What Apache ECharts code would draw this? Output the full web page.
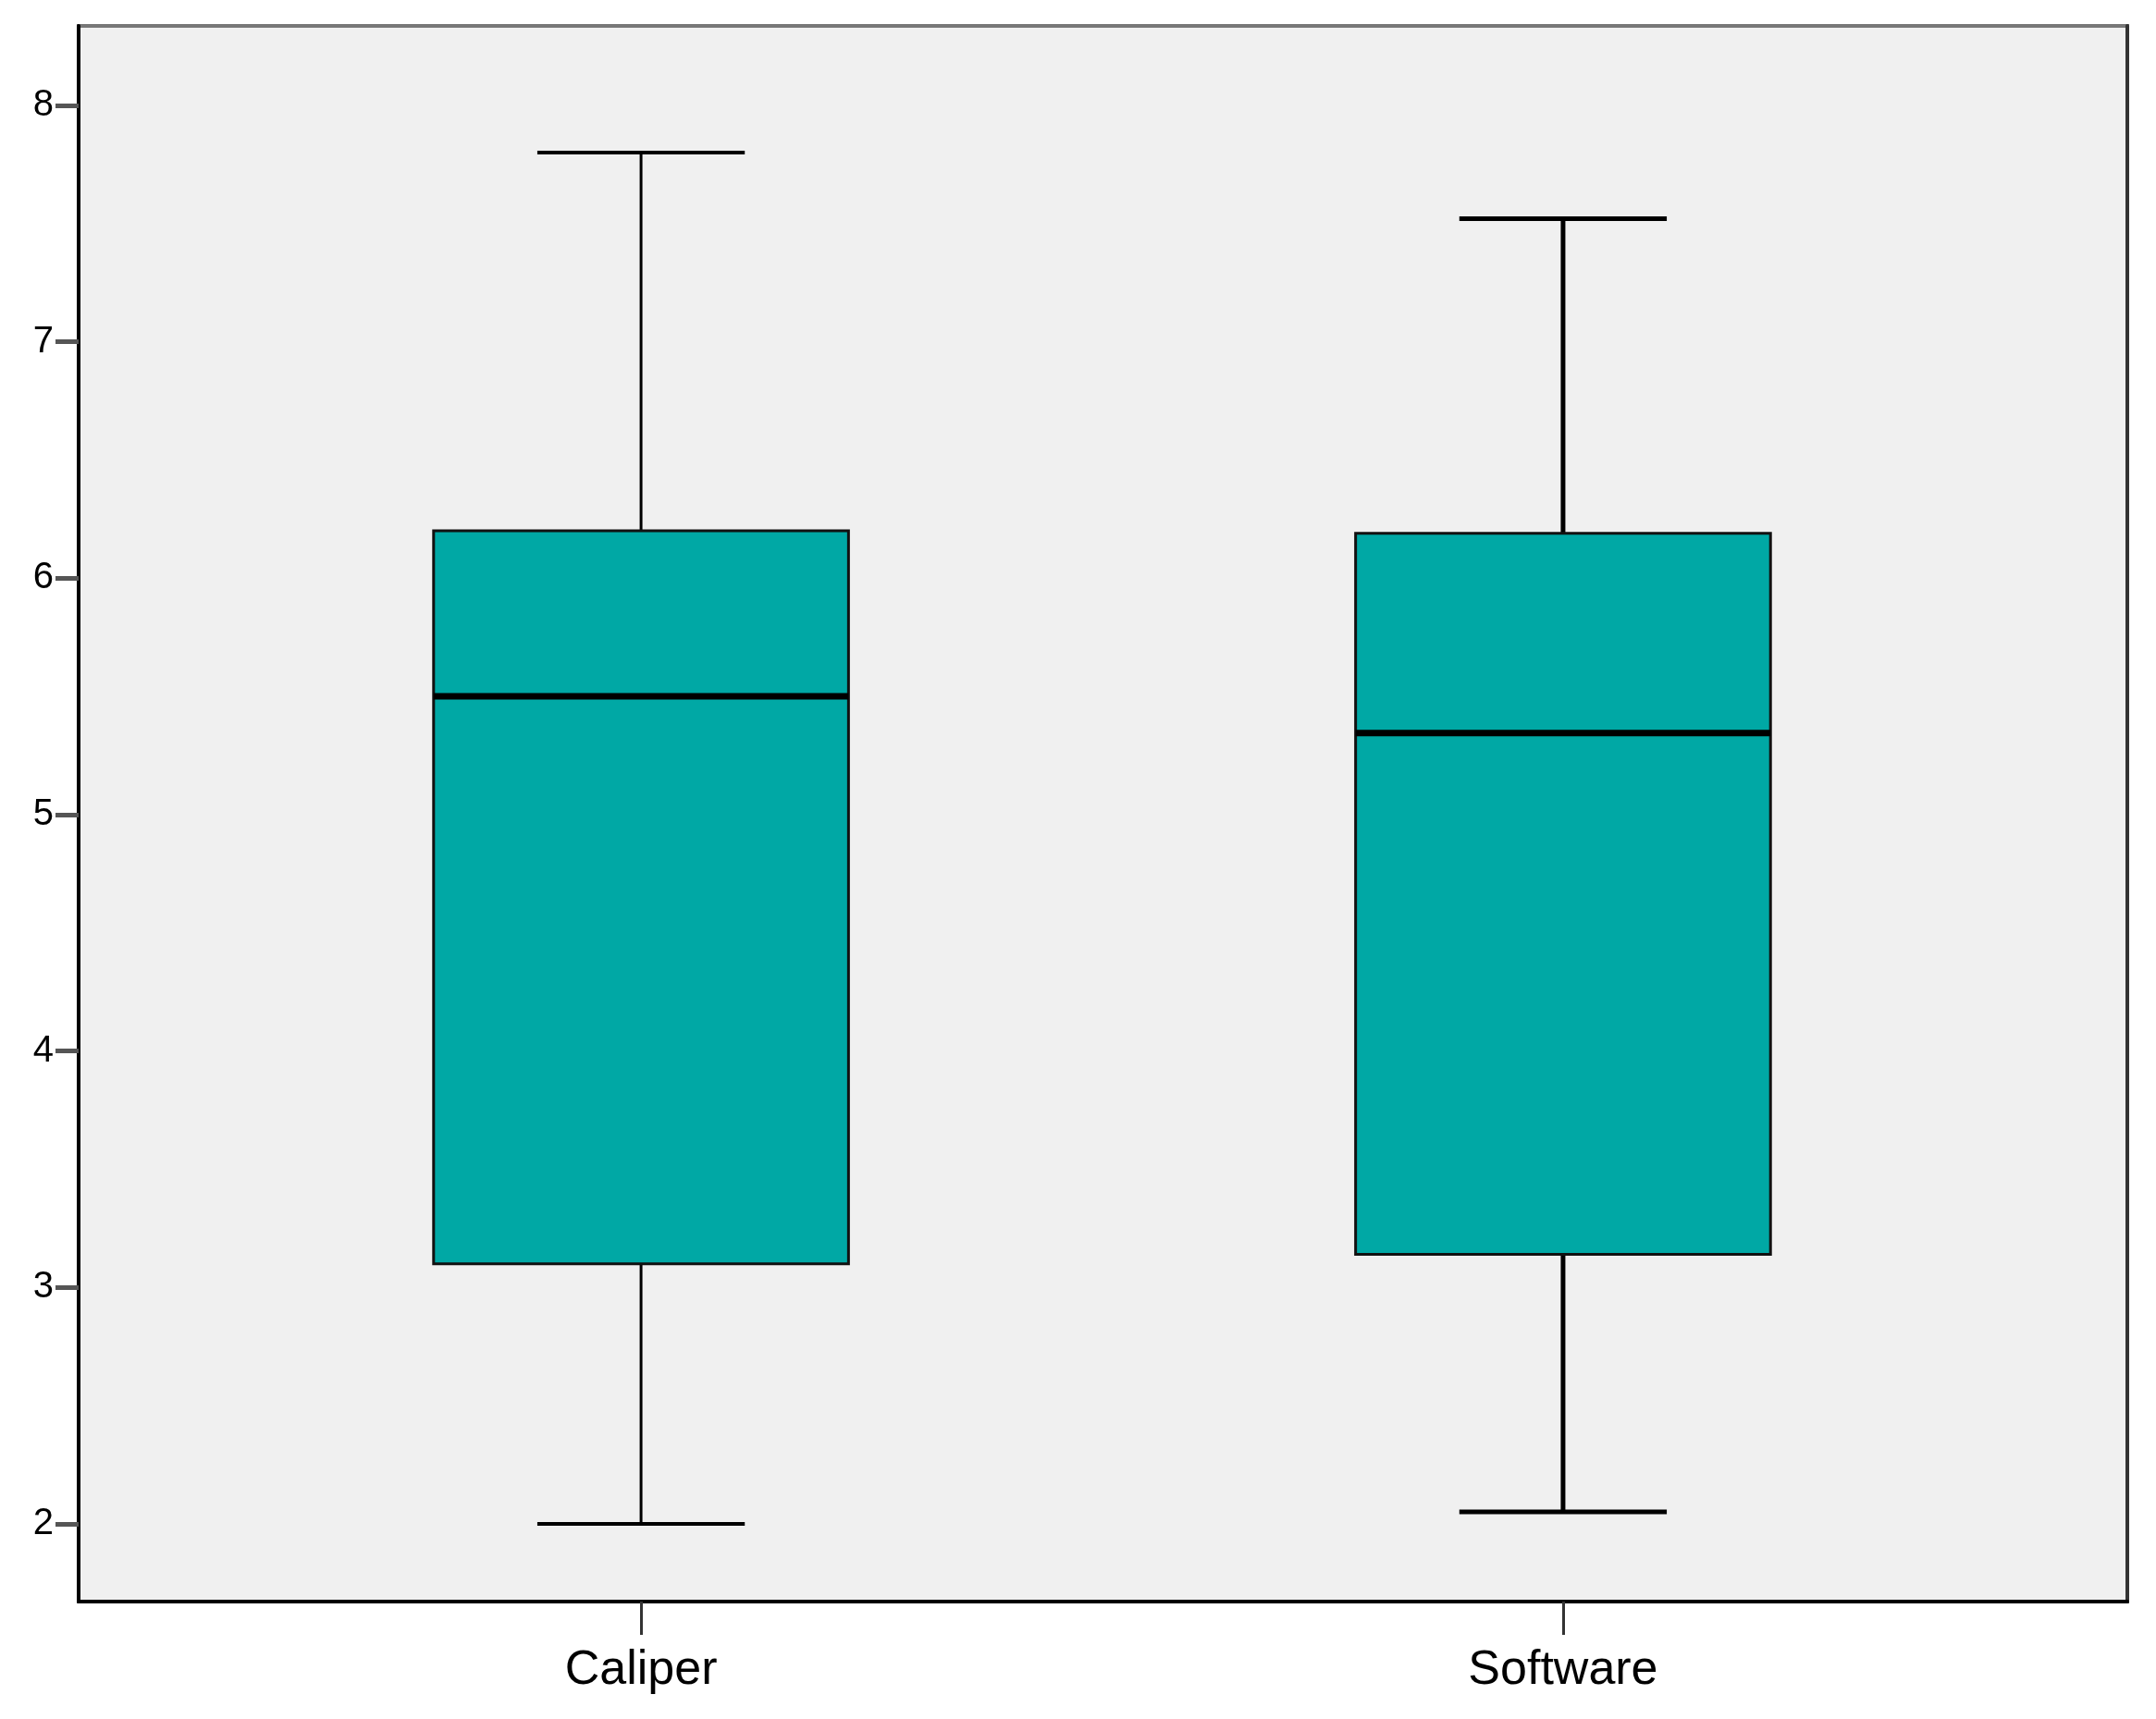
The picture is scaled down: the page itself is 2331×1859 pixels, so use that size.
<!DOCTYPE html>
<html>
<head>
<meta charset="utf-8">
<script src="https://cdn.jsdelivr.net/npm/echarts@6/dist/echarts.min.js"></script>
<style>
  html, body { margin: 0; padding: 0; background: #fff; }
  #chart { width: 2331px; height: 1859px; }
</style>
</head>
<body>
<div id="chart"></div>
<script>
// data
const categories = ['Caliper', 'Software']
const whiskerLow = [2.0, 2.05]
const q1 = [3.10, 3.14]
const median = [5.50, 5.345]
const q3 = [6.20, 6.19]
const whiskerHigh = [7.80, 7.52]
const yTicks = [2, 3, 4, 5, 6, 7, 8]

// line widths differ a bit per box in the original
const whiskerWidth = [3, 5]
const capWidth = [4, 5]

const rows = categories.map((c, i) => [i + 1, whiskerLow[i], q1[i], median[i], q3[i], whiskerHigh[i]])

const chart = echarts.init(document.getElementById('chart'))

const font = 'Liberation Sans, Arial, sans-serif'

chart.setOption({
  animation: false,
  grid: {
    left: 85, right: 31, top: 28, bottom: 127,
    show: true,
    backgroundColor: '#f0f0f0',
    borderColor: '#777',
    borderWidth: 4
  },
  xAxis: {
    type: 'value',
    min: 0.39,
    max: 2.612,
    splitLine: { show: false },
    axisLine: { show: true, onZero: false, lineStyle: { color: '#000', width: 4 } },
    axisTick: { show: true, customValues: [1, 2], length: 36, lineStyle: { color: '#333', width: 3 } },
    axisLabel: {
      customValues: [1, 2],
      formatter: v => categories[Math.round(v) - 1],
      color: '#000', fontFamily: font, fontSize: 52, margin: 49
    }
  },
  yAxis: [{
    type: 'value',
    min: 1.671,
    max: 8.336,
    splitLine: { show: false },
    axisLine: { show: true, onZero: false, lineStyle: { color: '#000', width: 4 } },
    axisTick: { show: true, customValues: yTicks, length: 25, lineStyle: { color: '#555', width: 5 } },
    axisLabel: { customValues: yTicks, color: '#000', fontFamily: font, fontSize: 40, margin: 27 }
  }, {
    type: 'value',
    position: 'right',
    min: 1.671,
    max: 8.336,
    splitLine: { show: false },
    axisLine: { show: true, onZero: false, lineStyle: { color: '#333', width: 4 } },
    axisTick: { show: false },
    axisLabel: { show: false }
  }],
  series: [{
    type: 'custom',
    xAxisIndex: 0,
    yAxisIndex: 0,
    data: rows,
    encode: { x: 0, y: [1, 2, 3, 4, 5] },
    renderItem: function (params, api) {
      const i = params.dataIndex
      const x = api.value(0)
      const unit = api.size([1, 0])[0]
      const half = unit * 0.45 / 2
      const capHalf = half / 2
      const pLow = api.coord([x, api.value(1)])
      const pQ1 = api.coord([x, api.value(2)])
      const pMed = api.coord([x, api.value(3)])
      const pQ3 = api.coord([x, api.value(4)])
      const pHigh = api.coord([x, api.value(5)])
      const cx = pMed[0]
      const wStyle = { stroke: '#000', lineWidth: whiskerWidth[i] }
      const cStyle = { stroke: '#000', lineWidth: capWidth[i] }
      return {
        type: 'group',
        children: [
          { type: 'line', shape: { x1: cx, y1: pLow[1], x2: cx, y2: pQ1[1] }, style: wStyle },
          { type: 'line', shape: { x1: cx, y1: pQ3[1], x2: cx, y2: pHigh[1] }, style: wStyle },
          { type: 'line', shape: { x1: cx - capHalf, y1: pLow[1], x2: cx + capHalf, y2: pLow[1] }, style: cStyle },
          { type: 'line', shape: { x1: cx - capHalf, y1: pHigh[1], x2: cx + capHalf, y2: pHigh[1] }, style: cStyle },
          {
            type: 'rect',
            shape: { x: cx - half, y: pQ3[1], width: half * 2, height: pQ1[1] - pQ3[1] },
            style: { fill: '#00a8a5', stroke: '#111', lineWidth: 3 }
          },
          { type: 'line', shape: { x1: cx - half, y1: pMed[1], x2: cx + half, y2: pMed[1] }, style: { stroke: '#000', lineWidth: 7 } }
        ]
      }
    }
  }]
})
</script>
</body>
</html>
